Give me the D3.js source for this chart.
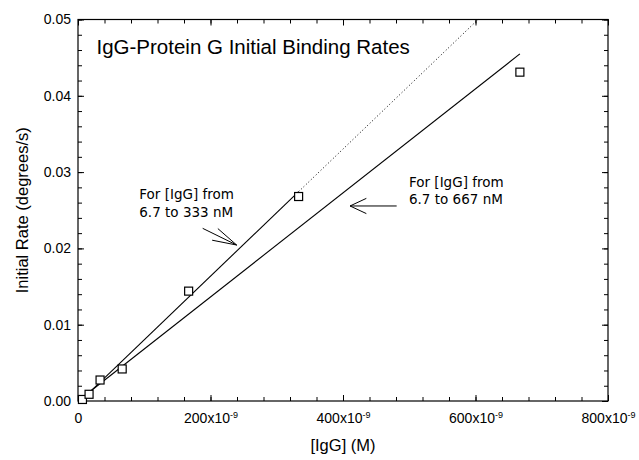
<!DOCTYPE html>
<html>
<head>
<meta charset="utf-8">
<script src="https://cdn.jsdelivr.net/npm/d3@7"></script>
<style>
    html, body { margin: 0; padding: 0; background: #fff; }
    svg { display: block; }
    .tick-label { font-family: "Liberation Sans", Arial, sans-serif; font-size: 14px; fill: #000; }
    .axis-title { font-family: "Liberation Sans", Arial, sans-serif; font-size: 16.5px; fill: #000; }
    .note { font-family: "DejaVu Sans", Verdana, sans-serif; font-size: 13.5px; fill: #000; }
</style>
</head>
<body>
<div id="chart"></div>
<script>
// measured points: [IgG] in M, initial rate in degrees/s
const concentrations = [6.7e-9, 16.7e-9, 33.3e-9, 66.7e-9, 167e-9, 333e-9, 667e-9];
const rates = [0.0002, 0.00088, 0.00275, 0.0042, 0.0144, 0.0268, 0.0431];

// linear fits (slope in degrees/s per M)
const fitSlopes = [8.33e4, 6.82e4];
const fitIntercepts = [-0.0003, 0.0];
const fitStarts = [6.7e-9, 6.7e-9];
const fitEnds = [333e-9, 667e-9];
const fitExtended = [true, false];

const xTickValues = [0, 200e-9, 400e-9, 600e-9, 800e-9];
const xTickBase = ['0', '200x10', '400x10', '600x10', '800x10'];
const xTickSup = ['', '-9', '-9', '-9', '-9'];
const yTickValues = [0, 0.01, 0.02, 0.03, 0.04, 0.05];
const yTickLabels = ['0.00', '0.01', '0.02', '0.03', '0.04', '0.05'];

const chartTitle = 'IgG-Protein G Initial Binding Rates';
const xTitle = '[IgG] (M)';
const yTitle = 'Initial Rate (degrees/s)';

// annotations, anchored in data units
const noteLines = [['For [IgG] from', '6.7 to 333 nM'], ['For [IgG] from', '6.7 to 667 nM']];
const noteAnchors = [[92.5e-9, 0.02643], [499.6e-9, 0.02809]];
const arrowTips = [[239.5e-9, 0.02044], [410.6e-9, 0.02556]];
const arrowTails = [[188.2e-9, 0.02263], [481e-9, 0.02556]];

(() => {
    const W = 639, H = 460;
    const margin = { top: 19.5, right: 31, bottom: 59, left: 78 };
    const width = W - margin.left - margin.right;
    const height = H - margin.top - margin.bottom;

    const svg = d3.select('#chart').append('svg')
        .attr('width', W)
        .attr('height', H);

    const g = svg.append('g')
        .attr('transform', `translate(${margin.left},${margin.top})`);

    const x = d3.scaleLinear().domain([0, 800e-9]).range([0, width]);
    const y = d3.scaleLinear().domain([0, 0.05]).range([height, 0]);

    const xMinor = d3.range(0, 800e-9 + 1e-12, 40e-9);
    const yMinor = d3.range(0, 0.05 + 1e-9, 0.002);

    const styleAxis = sel => {
        sel.selectAll('path.domain').remove();
        sel.selectAll('line').attr('stroke', '#000').attr('stroke-width', 1);
    };

    // minor ticks, all four sides, pointing inward
    g.append('g').attr('transform', `translate(0,${height})`)
        .call(d3.axisBottom(x).tickValues(xMinor).tickSize(-4).tickFormat(''))
        .call(styleAxis);
    g.append('g')
        .call(d3.axisTop(x).tickValues(xMinor).tickSize(-4).tickFormat(''))
        .call(styleAxis);
    g.append('g')
        .call(d3.axisLeft(y).tickValues(yMinor).tickSize(-4).tickFormat(''))
        .call(styleAxis);
    g.append('g').attr('transform', `translate(${width},0)`)
        .call(d3.axisRight(y).tickValues(yMinor).tickSize(-4).tickFormat(''))
        .call(styleAxis);

    // major ticks
    const xAxis = g.append('g').attr('transform', `translate(0,${height})`)
        .call(d3.axisBottom(x).tickValues(xTickValues).tickSize(-6).tickPadding(12).tickFormat(''))
        .call(styleAxis);
    g.append('g')
        .call(d3.axisTop(x).tickValues(xTickValues).tickSize(-6).tickFormat(''))
        .call(styleAxis);
    const yAxis = g.append('g')
        .call(d3.axisLeft(y).tickValues(yTickValues).tickSize(-6).tickPadding(7)
            .tickFormat((d, i) => yTickLabels[i]))
        .call(styleAxis);
    g.append('g').attr('transform', `translate(${width},0)`)
        .call(d3.axisRight(y).tickValues(yTickValues).tickSize(-6).tickFormat(''))
        .call(styleAxis);

    yAxis.selectAll('text')
        .attr('class', 'tick-label')
        .attr('font-family', null)
        .attr('font-size', null);

    xAxis.selectAll('.tick').each(function (d, i) {
        const t = d3.select(this).append('text')
            .attr('class', 'tick-label')
            .attr('text-anchor', 'middle')
            .attr('y', 22);
        t.append('tspan').text(xTickBase[i]);
        if (xTickSup[i]) {
            t.append('tspan')
                .attr('dy', -5)
                .attr('font-size', '9px')
                .text(xTickSup[i]);
        }
    });

    // frame
    g.append('rect')
        .attr('width', width)
        .attr('height', height)
        .attr('fill', 'none')
        .attr('stroke', '#000')
        .attr('stroke-width', 1.2);

    // fit lines
    const line = d3.line().x(d => x(d[0])).y(d => y(d[1]));
    fitSlopes.forEach((m, i) => {
        const b = fitIntercepts[i];
        const solid = [fitStarts[i], fitEnds[i]].map(v => [v, m * v + b]);
        g.append('path')
            .attr('d', line(solid))
            .attr('fill', 'none')
            .attr('stroke', '#000')
            .attr('stroke-width', 1.1);
        if (fitExtended[i]) {
            const xTop = Math.min(800e-9, (0.05 - b) / m);
            const ext = [fitEnds[i], xTop].map(v => [v, m * v + b]);
            g.append('path')
                .attr('d', line(ext))
                .attr('fill', 'none')
                .attr('stroke', '#000')
                .attr('stroke-width', 1)
                .attr('stroke-dasharray', '1,2.4');
        }
    });

    // data squares
    const sq = 8;
    g.selectAll('.pt')
        .data(concentrations.map((c, i) => [c, rates[i]]))
        .enter()
        .append('rect')
        .attr('class', 'pt')
        .attr('x', d => x(d[0]) - sq / 2)
        .attr('y', d => y(d[1]) - sq / 2)
        .attr('width', sq)
        .attr('height', sq)
        .attr('fill', '#fff')
        .attr('stroke', '#000')
        .attr('stroke-width', 1.2);

    // annotations
    const barbs = [{ len: 25, ang: 15 }, { len: 18, ang: 25 }];
    noteLines.forEach((lines, i) => {
        const [ax, ay] = noteAnchors[i];
        const txt = g.append('text')
            .attr('class', 'note')
            .attr('x', x(ax))
            .attr('y', y(ay));
        lines.forEach((l, j) => {
            txt.append('tspan')
                .attr('x', x(ax))
                .attr('dy', j === 0 ? 0 : 17.4)
                .text(l);
        });

        const tx = x(arrowTips[i][0]), ty = y(arrowTips[i][1]);
        const sx = x(arrowTails[i][0]), sy = y(arrowTails[i][1]);
        const dir = Math.atan2(sy - ty, sx - tx);
        const segs = [[sx, sy]];
        [-1, 1].forEach(s => {
            const a = dir + s * barbs[i].ang * Math.PI / 180;
            segs.push([tx + barbs[i].len * Math.cos(a), ty + barbs[i].len * Math.sin(a)]);
        });
        segs.forEach(p => {
            g.append('line')
                .attr('x1', tx).attr('y1', ty)
                .attr('x2', p[0]).attr('y2', p[1])
                .attr('stroke', '#000')
                .attr('stroke-width', 1);
        });
    });

    // titles
    svg.append('text')
        .attr('class', 'axis-title')
        .attr('x', 96.5)
        .attr('y', 53.5)
        .style('font-size', '20.5px')
        .text(chartTitle);

    svg.append('text')
        .attr('class', 'axis-title')
        .attr('text-anchor', 'middle')
        .attr('x', margin.left + width / 2)
        .attr('y', 451)
        .text(xTitle);

    svg.append('text')
        .attr('class', 'axis-title')
        .attr('text-anchor', 'middle')
        .attr('transform', `translate(28,${margin.top + height / 2}) rotate(-90)`)
        .text(yTitle);
})();
</script>
</body>
</html>
